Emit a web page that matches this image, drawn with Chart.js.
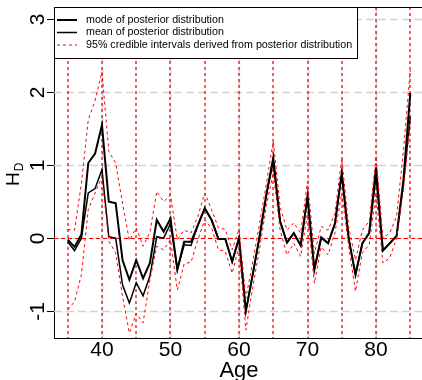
<!DOCTYPE html>
<html>
<head>
<meta charset="utf-8">
<script src="https://cdn.jsdelivr.net/npm/chart.js@4.4.1/dist/chart.umd.min.js"></script>
<style>
	html, body { margin: 0; padding: 0; background: #fff; overflow: hidden; }
	#wrap { width: 426px; height: 380px; }
</style>
</head>
<body>
<div id="wrap"><canvas id="hdChart" width="426" height="380"></canvas></div>
<script>
const ages = [35, 36, 37, 38, 39, 40, 41, 42, 43, 44,
	45, 46, 47, 48, 49, 50, 51, 52, 53, 54,
	55, 56, 57, 58, 59, 60, 61, 62, 63, 64,
	65, 66, 67, 68, 69, 70, 71, 72, 73, 74,
	75, 76, 77, 78, 79, 80, 81, 82, 83, 84, 85];

const modeValues = [-0.02, -0.12, 0.05, 1.03, 1.16, 1.55, 0.50, 0.48, -0.30, -0.57,
	-0.30, -0.55, -0.34, 0.25, 0.09, 0.27, -0.43, -0.05, -0.05, 0.18,
	0.41, 0.25, -0.01, -0.01, -0.32, 0.0, -1.0, -0.5, 0.02, 0.6,
	1.1, 0.23, -0.06, 0.07, -0.10, 0.57, -0.43, 0.01, -0.07, 0.2,
	0.89, 0.0, -0.5, -0.07, 0.07, 0.97, -0.17, -0.07, 0.03, 0.8, 1.99];

const meanValues = [-0.05, -0.17, 0.0, 0.62, 0.68, 0.94, 0.02, 0.0, -0.64, -0.89,
	-0.61, -0.79, -0.52, 0.02, 0.0, 0.2, -0.43, -0.09, -0.1, 0.18,
	0.41, 0.25, -0.01, -0.01, -0.32, 0.0, -1.0, -0.5, 0.02, 0.6,
	1.05, 0.23, -0.06, 0.07, -0.10, 0.57, -0.43, 0.01, -0.07, 0.2,
	0.89, 0.0, -0.5, -0.07, 0.07, 0.85, -0.17, -0.07, 0.03, 0.75, 1.67];

const upperCI = [0.12, 0.11, 0.75, 1.62, 1.89, 2.28, 1.19, 1.03, 0.48, -0.03,
	0.14, -0.11, 0.08, 0.64, 0.50, 0.59, -0.02, 0.11, 0.07, 0.30,
	0.62, 0.39, 0.14, 0.12, -0.16, 0.12, -0.82, -0.33, 0.2, 0.75,
	1.33, 0.43, 0.11, 0.21, 0.07, 0.78, -0.21, 0.16, 0.11, 0.34,
	1.1, 0.16, -0.30, 0.11, 0.23, 1.12, 0.0, 0.07, 0.3, 1.2, 2.3];

const lowerCI = [-0.98, -0.87, -0.5, 0.39, 0.62, 0.84, -0.04, -0.2, -0.8, -1.3,
	-1.03, -1.16, -0.57, -0.11, -0.16, -0.02, -0.71, -0.35, -0.33, -0.02,
	0.25, 0.14, -0.16, -0.18, -0.48, -0.12, -1.26, -0.67, -0.15, 0.45,
	0.9, 0.11, -0.23, -0.07, -0.25, 0.34, -0.62, -0.12, -0.23, 0.07,
	0.62, -0.1, -0.73, -0.2, -0.09, 0.62, -0.34, -0.27, 0.0, 0.66, 1.62];

const xTicks = [40, 50, 60, 70, 80];
const yTicks = [-1, 0, 1, 2, 3];
const refAges = [35, 40, 45, 50, 55, 60, 65, 70, 75, 80, 85];

const FONT = '"Liberation Sans", Arial, Helvetica, sans-serif';

function toPoints(values) {
	return ages.map((a, i) => ({ x: a, y: values[i] }));
}

// grid and reference lines, under the data
const backLines = {
	id: 'backLines',
	beforeDatasetsDraw(chart) {
		const { ctx, chartArea: area, scales: { x, y } } = chart;
		ctx.save();
		ctx.beginPath();
		ctx.rect(area.left, area.top, area.right - area.left, area.bottom - area.top);
		ctx.clip();

		ctx.strokeStyle = '#d3d3d3';
		ctx.lineWidth = 1.5;
		ctx.setLineDash([8, 4]);
		yTicks.forEach(v => {
			const py = Math.round(y.getPixelForValue(v)) + 0.5;
			ctx.beginPath(); ctx.moveTo(area.left, py); ctx.lineTo(area.right, py); ctx.stroke();
		});
		xTicks.forEach(v => {
			const px = Math.round(x.getPixelForValue(v)) + 0.5;
			ctx.beginPath(); ctx.moveTo(px, area.top); ctx.lineTo(px, area.bottom); ctx.stroke();
		});

		ctx.strokeStyle = '#ff0000';
		ctx.lineWidth = 1.3;
		ctx.setLineDash([3, 3]);
		refAges.forEach(v => {
			const px = Math.round(x.getPixelForValue(v));
			ctx.beginPath(); ctx.moveTo(px, area.top); ctx.lineTo(px, area.bottom); ctx.stroke();
		});
		ctx.lineWidth = 1;
		ctx.setLineDash([4, 3]);
		const p0 = Math.round(y.getPixelForValue(0)) + 0.5;
		ctx.beginPath(); ctx.moveTo(area.left, p0); ctx.lineTo(area.right, p0); ctx.stroke();
		ctx.restore();
	}
};

// box top, y axis labels, titles and legend
const frontBits = {
	id: 'frontBits',
	afterDatasetsDraw(chart) {
		const { ctx, chartArea: area, scales: { y } } = chart;
		ctx.save();
		ctx.setLineDash([]);
		ctx.strokeStyle = '#000';
		ctx.lineWidth = 1;
		ctx.beginPath();
		ctx.moveTo(area.left, area.top + 0.5);
		ctx.lineTo(area.right - 0.5, area.top + 0.5);
		ctx.lineTo(area.right - 0.5, area.bottom);
		ctx.stroke();

		// y ticks, rotated like R's default
		ctx.fillStyle = '#000';
		ctx.font = '21px ' + FONT;
		ctx.textAlign = 'center';
		ctx.textBaseline = 'alphabetic';
		yTicks.forEach(v => {
			const py = Math.round(y.getPixelForValue(v)) + 0.5;
			ctx.beginPath(); ctx.moveTo(area.left - 7, py); ctx.lineTo(area.left, py); ctx.stroke();
			ctx.save();
			ctx.translate(43.5, py);
			ctx.rotate(-Math.PI / 2);
			ctx.fillText(String(v), 0, 0);
			ctx.restore();
		});

		// y title H_D
		ctx.save();
		ctx.translate(18.5, 186);
		ctx.rotate(-Math.PI / 2);
		ctx.textAlign = 'left';
		ctx.font = '19px ' + FONT;
		ctx.fillText('H', 0, 0);
		const hw = ctx.measureText('H').width;
		ctx.font = '12px ' + FONT;
		ctx.fillText('D', hw + 1, 4.5);
		ctx.restore();

		// x title
		ctx.font = '22px ' + FONT;
		ctx.textAlign = 'center';
		ctx.fillText('Age', (area.left + area.right) / 2, 377);

		// legend
		const lx = area.left, ly = area.top, lw = 303, lh = 51;
		ctx.fillStyle = '#fff';
		ctx.fillRect(lx, ly, lw, lh);
		ctx.strokeStyle = '#000';
		ctx.strokeRect(lx + 0.5, ly + 0.5, lw, lh);
		const rows = [20, 32.5, 45];
		chart.data.datasets.slice(0, 3).forEach((ds, i) => {
			ctx.strokeStyle = ds.borderColor;
			ctx.lineWidth = ds.borderWidth;
			ctx.setLineDash(ds.borderDash || []);
			ctx.beginPath();
			ctx.moveTo(lx + 3, rows[i]);
			ctx.lineTo(lx + 23, rows[i]);
			ctx.stroke();
			ctx.fillStyle = '#000';
			ctx.font = '10.7px ' + FONT;
			ctx.textAlign = 'left';
			ctx.textBaseline = 'middle';
			ctx.fillText(ds.label, lx + 32, rows[i]);
		});
		ctx.restore();
	}
};

const ctx = document.getElementById('hdChart').getContext('2d');

const hdChart = new Chart(ctx, {
	type: 'line',
	data: {
		datasets: [
			{
				label: 'mode of posterior distribution',
				data: toPoints(modeValues),
				borderColor: '#000000',
				borderWidth: 2,
				order: 2
			},
			{
				label: 'mean of posterior distribution',
				data: toPoints(meanValues),
				borderColor: '#000000',
				borderWidth: 1.5,
				order: 2
			},
			{
				label: '95% credible intervals derived from posterior distribution',
				data: toPoints(upperCI),
				borderColor: '#ff0000',
				borderWidth: 1,
				borderDash: [3, 3],
				order: 1
			},
			{
				label: 'lower',
				data: toPoints(lowerCI),
				borderColor: '#ff0000',
				borderWidth: 1,
				borderDash: [3, 3],
				order: 1
			}
		]
	},
	options: {
		responsive: false,
		animation: false,
		devicePixelRatio: 1,
		layout: { padding: { left: 54, right: 2, top: 7, bottom: 0 } },
		elements: {
			point: { radius: 0 },
			line: { tension: 0, fill: false }
		},
		plugins: {
			legend: { display: false },
			tooltip: { enabled: false }
		},
		scales: {
			x: {
				type: 'linear',
				min: 33,
				max: 87,
				afterBuildTicks: scale => { scale.ticks = xTicks.map(v => ({ value: v })); },
				afterFit: scale => { scale.height = 42; },
				ticks: {
					autoSkip: false,
					maxRotation: 0,
					padding: 0,
					color: '#000',
					font: { family: FONT, size: 21 }
				},
				grid: { display: false, drawTicks: false },
				border: { display: true, color: '#000', width: 1 }
			},
			y: {
				type: 'linear',
				min: -1.368,
				max: 3.168,
				afterFit: scale => { scale.width = 0; },
				ticks: { display: false },
				grid: { display: false, drawTicks: false },
				border: { display: true, color: '#000', width: 1 }
			}
		}
	},
	plugins: [backLines, frontBits]
});
</script>
</body>
</html>
